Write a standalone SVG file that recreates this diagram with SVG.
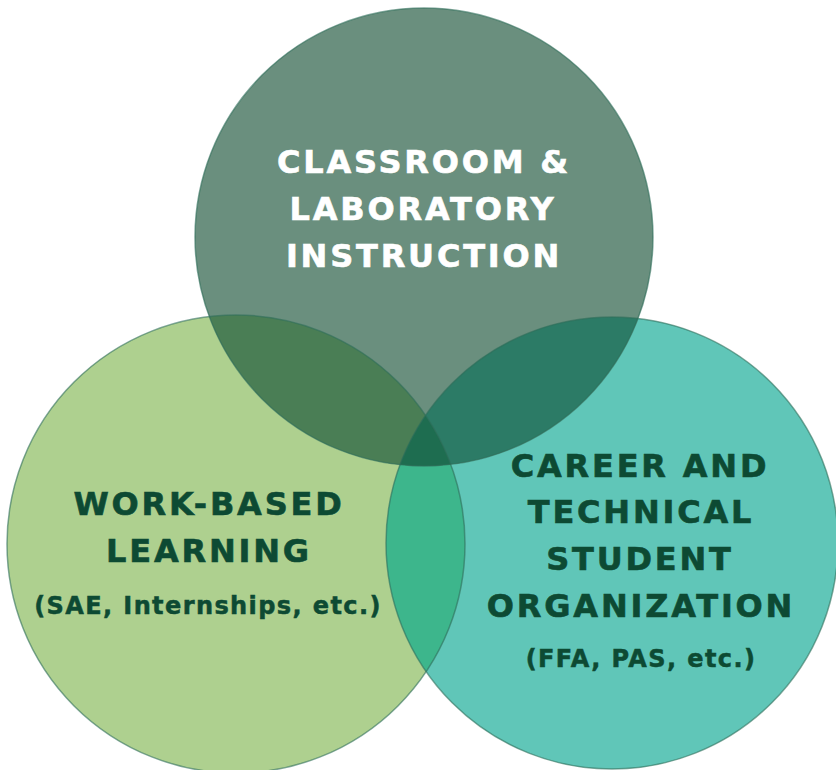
<svg xmlns="http://www.w3.org/2000/svg" width="836" height="770" viewBox="0 0 836 770">
  <defs>
    <clipPath id="clipTop"><circle cx="424" cy="237" r="229"/></clipPath>
    <clipPath id="clipLeft"><circle cx="236" cy="544" r="229"/></clipPath>
    <clipPath id="clipRight"><circle cx="612" cy="543" r="226"/></clipPath>
    <style>
      .title { font-family: "DejaVu Sans", "Liberation Sans", sans-serif; font-weight: bold; font-size: 32px; text-anchor: middle; letter-spacing: 2.8px; stroke-width: 0.6px; }
      .sub { font-family: "DejaVu Sans", "Liberation Sans", sans-serif; font-weight: bold; font-size: 24px; text-anchor: middle; letter-spacing: 1.4px; stroke-width: 0.5px; }
      .light { fill: #ffffff; stroke: #ffffff; }
      .dark { fill: #0d4a33; stroke: #0d4a33; }
      .outline { fill: none; stroke: #2f6e5a; stroke-width: 1.5; stroke-opacity: 0.6; }
    </style>
  </defs>
  <rect x="0" y="0" width="836" height="770" fill="#ffffff"/>

  <g id="left-circle">
    <circle cx="236" cy="544" r="229" fill="#aed08f"/>
  </g>
  <g id="right-circle">
    <circle cx="612" cy="543" r="226" fill="#60c6b8"/>
  </g>
  <g id="top-circle">
    <circle cx="424" cy="237" r="229" fill="#6a8f7e"/>
  </g>

  <g id="overlaps">
    <g clip-path="url(#clipLeft)"><circle cx="612" cy="543" r="226" fill="#3db68c"/></g>
    <g clip-path="url(#clipTop)"><circle cx="236" cy="544" r="229" fill="#4a7e55"/></g>
    <g clip-path="url(#clipTop)"><circle cx="612" cy="543" r="226" fill="#2c7b66"/></g>
    <g clip-path="url(#clipTop)"><g clip-path="url(#clipLeft)"><circle cx="612" cy="543" r="226" fill="#1e6d50"/></g></g>
  </g>

  <g id="outlines">
    <circle class="outline" cx="236" cy="544" r="229"/>
    <circle class="outline" cx="612" cy="543" r="226"/>
    <circle class="outline" cx="424" cy="237" r="229" stroke-opacity="0.3"/>
  </g>

  <g id="label-top">
    <text class="title light" x="424" y="173">CLASSROOM &amp;</text>
    <text class="title light" x="423" y="220">LABORATORY</text>
    <text class="title light" x="424" y="267">INSTRUCTION</text>
  </g>
  <g id="label-left">
    <text class="title dark" x="209" y="515">WORK-BASED</text>
    <text class="title dark" x="209" y="562">LEARNING</text>
    <text class="sub dark" x="208" y="614">(SAE, Internships, etc.)</text>
  </g>
  <g id="label-right">
    <text class="title dark" x="640" y="477">CAREER AND</text>
    <text class="title dark" x="641" y="523">TECHNICAL</text>
    <text class="title dark" x="640" y="570">STUDENT</text>
    <text class="title dark" x="641" y="617">ORGANIZATION</text>
    <text class="sub dark" x="641" y="667">(FFA, PAS, etc.)</text>
  </g>
</svg>
